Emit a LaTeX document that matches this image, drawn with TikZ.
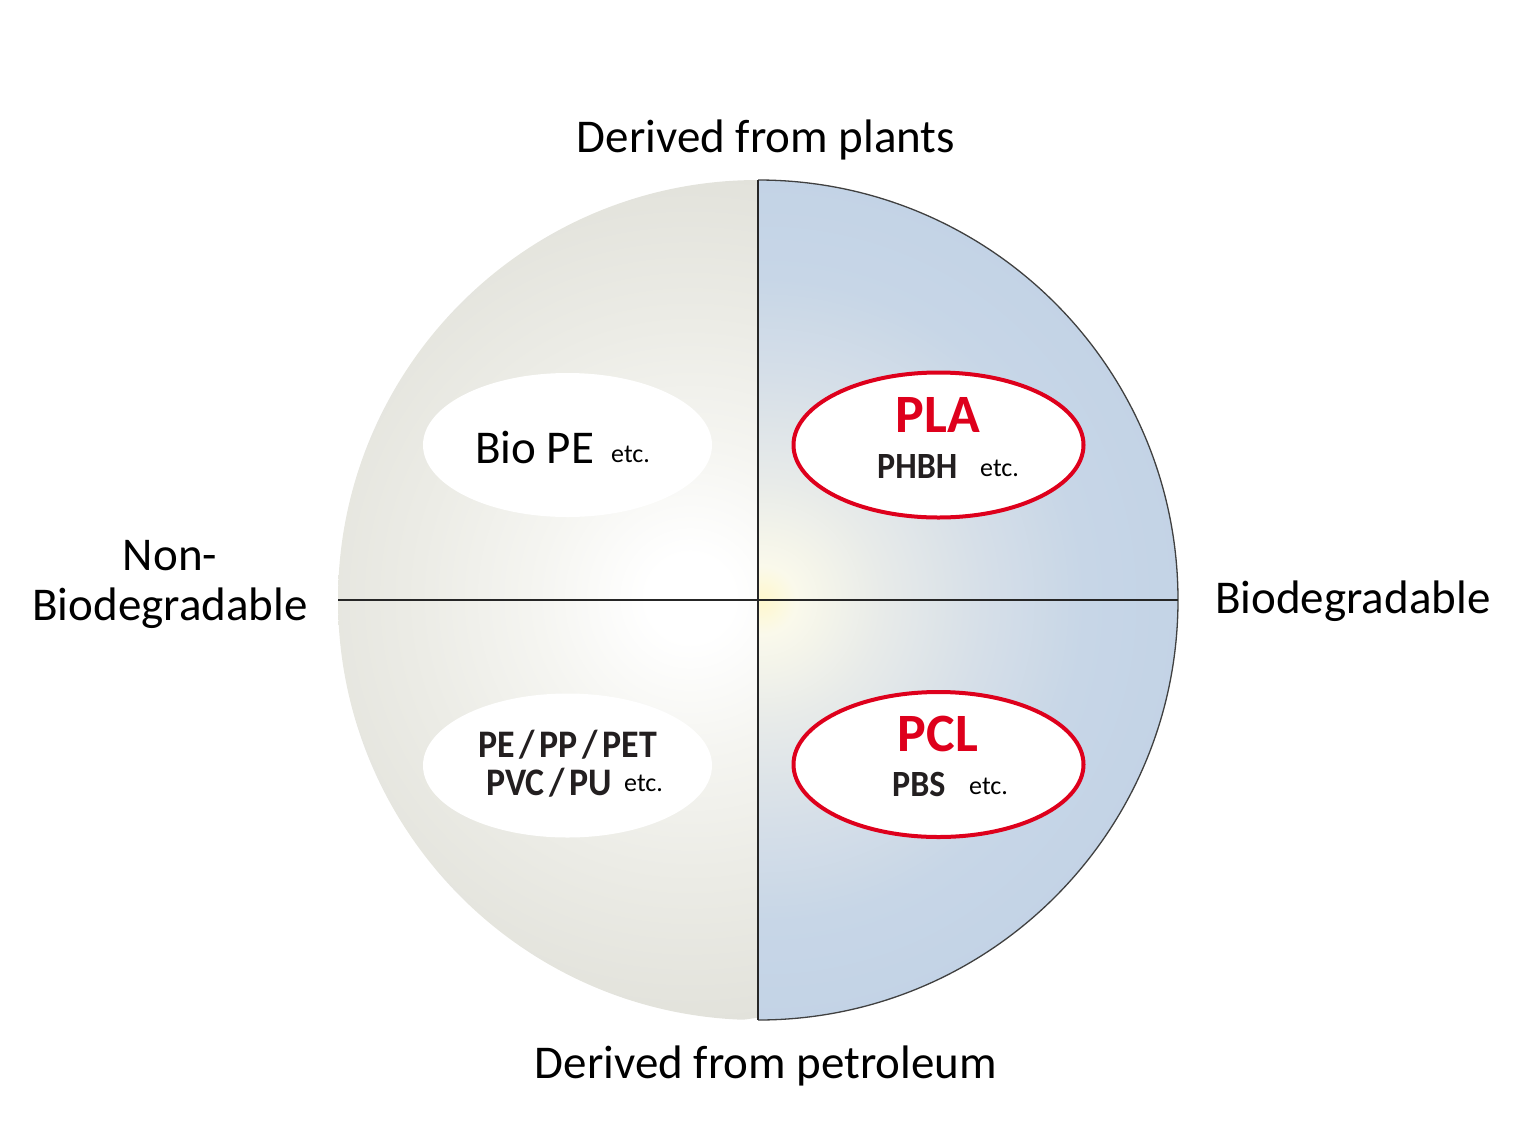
\documentclass[tikz,border=0pt]{standalone}
\usepackage{fontspec}
\setmainfont{Carlito}
\newfontfamily\condb[FakeStretch=0.92]{Carlito}
\usetikzlibrary{shapes.geometric}
\definecolor{g0}{RGB}{255,255,255}
\definecolor{g1}{RGB}{245,245,241}
\definecolor{g2}{RGB}{236,236,230}
\definecolor{g3}{RGB}{226,226,219}
\definecolor{b0}{RGB}{255,248,205}
\definecolor{b1}{RGB}{250,249,235}
\definecolor{b2}{RGB}{232,235,233}
\definecolor{b3}{RGB}{214,223,232}
\definecolor{b4}{RGB}{199,214,231}
\definecolor{b5}{RGB}{195,211,230}
\definecolor{pred}{RGB}{222,0,28}
\definecolor{dtext}{RGB}{35,31,32}
\pgfdeclareradialshading{leftsh}{\pgfpoint{0bp}{0bp}}{color(0bp)=(g0); color(2.5bp)=(g0); color(9bp)=(g1); color(16bp)=(g2); color(25bp)=(g3); color(50bp)=(g3)}
\pgfdeclareradialshading{rightsh}{\pgfpoint{0bp}{0bp}}{color(0bp)=(b0); color(2bp)=(b1); color(7bp)=(b2); color(13bp)=(b3); color(19bp)=(b4); color(25bp)=(b5); color(50bp)=(b5)}
\tikzset{
  lbl/.style={font=\fontsize{47}{50}\selectfont, inner sep=0pt, text=black},
  grayov/.style={ellipse, fill=white, draw=none, minimum width=289, minimum height=144},
  redov/.style={ellipse, fill=white, draw=pred, line width=4pt, minimum width=290, minimum height=145},
  redtxt/.style={font=\fontsize{54}{56}\selectfont\bfseries, text=pred, inner sep=0pt, anchor=base},
  bldtxt/.style={font=\condb\fontsize{39}{44}\selectfont\bfseries, text=dtext, inner sep=0pt, anchor=base west},
  bldsm/.style={font=\condb\fontsize{37}{41}\selectfont\bfseries, text=dtext, inner sep=0pt, anchor=base west},
  etctxt/.style={font=\fontsize{26}{28}\selectfont, text=black, inner sep=0pt, anchor=base west},
  axis/.style={draw=black!85, line width=1.4pt},
  outl/.style={draw=black!75, line width=1.3pt}
}
\begin{document}
\begin{tikzpicture}[x=1pt,y=-1pt]
\useasboundingbox (0,0) rectangle (1524,1125);
\coordinate (ctr) at (758,600);
\coordinate (top) at (758,180);
\coordinate (bot) at (758,1020);
\coordinate (lft) at (338,600);
\coordinate (rgt) at (1178,600);
% left half
\begin{scope}
  \clip (ctr) circle[radius=420];
  \clip (300,150) rectangle (758,1050);
  \shade[shading=leftsh] (690,598) circle[radius=425];
\end{scope}
% right half
\begin{scope}
  \clip (ctr) circle[radius=420];
  \clip (758,150) rectangle (1200,1050);
  \shade[shading=rightsh] (762,600) circle[radius=425];
\end{scope}
\draw[outl] (top) arc[start angle=270, end angle=450, radius=420];
\draw[axis] (lft) -- (rgt);
\draw[axis] (top) -- (bot);
% ovals
\node[grayov] (ovTL) at (567.5,445) {};
\node[grayov] (ovBL) at (567.5,765.5) {};
\node[redov] (ovTR) at (938.5,445) {};
\node[redov] (ovBR) at (938.5,764.5) {};
% oval texts
\node[lbl, anchor=base west] (biope) at (475,463) {Bio PE};
\node[etctxt] (etc1) at (611,462) {etc.};
\node[redtxt] (pla) at (938,432) {PLA};
\node[bldsm] (phbh) at (877,478) {PHBH};
\node[etctxt] (etc2) at (980,476) {etc.};
\node[redtxt] (pcl) at (938,751) {PCL};
\node[bldsm] (pbs) at (892,796) {PBS};
\node[etctxt] (etc3) at (969,794) {etc.};
\node[bldtxt] (pe) at (478,757) {PE\hspace{0.12em}/\hspace{0.12em}PP\hspace{0.12em}/\hspace{0.12em}PET};
\node[bldtxt] (pvc) at (486,795) {PVC\hspace{0.12em}/\hspace{0.12em}PU};
\node[etctxt] (etc4) at (624,791) {etc.};
% outer labels
\node[lbl, anchor=base] (plants) at (766,152) {Derived from plants};
\node[lbl, anchor=base] (petro) at (766,1078) {Derived from petroleum};
\node[lbl, anchor=base] (non) at (170,570) {Non-};
\node[lbl, anchor=base] (nonbio) at (170,620) {Biodegradable};
\node[lbl, anchor=base west] (bio) at (1215,613) {Biodegradable};
\end{tikzpicture}
\end{document}
